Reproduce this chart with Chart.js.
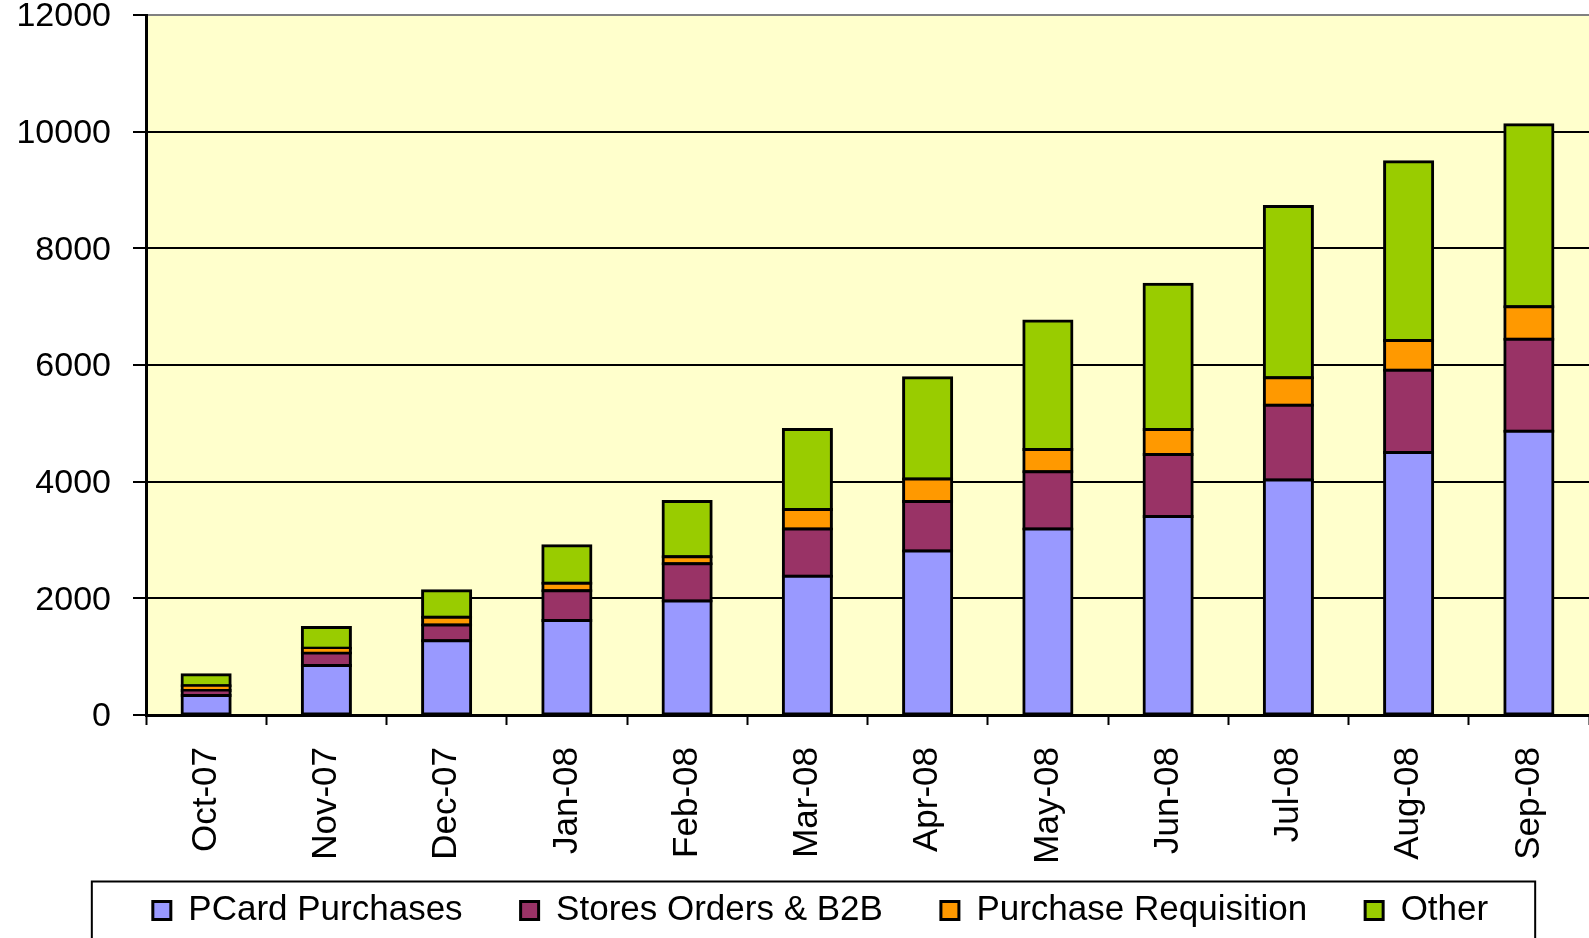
<!DOCTYPE html>
<html>
<head>
<meta charset="utf-8">
<script src="https://cdn.jsdelivr.net/npm/chart.js@4.4.1/dist/chart.umd.min.js"></script>
<style>
  html, body { margin: 0; padding: 0; background: #ffffff; }
  #wrap { width: 1589px; height: 938px; position: relative; }
</style>
</head>
<body>
<div id="wrap"><canvas id="c"></canvas></div>
<script>
const categories = ['Oct-07','Nov-07','Dec-07','Jan-08','Feb-08','Mar-08','Apr-08','May-08','Jun-08','Jul-08','Aug-08','Sep-08'];
const pcardPurchases = [335, 850, 1275, 1620, 1955, 2380, 2810, 3190, 3405, 4030, 4500, 4865];
const storesOrdersB2B = [85, 215, 270, 512, 640, 810, 850, 980, 1062, 1280, 1408, 1578];
const purchaseRequisition = [80, 79, 130, 125, 120, 332, 385, 380, 427, 473, 513, 555];
const other = [188, 354, 457, 645, 947, 1371, 1735, 2205, 2490, 2935, 3064, 3120];
const yTickValues = [0, 2000, 4000, 6000, 8000, 10000, 12000];

const FONT = "'Liberation Sans', Arial, sans-serif";

const plotBg = {
  id: 'plotBg',
  beforeDraw(chart) {
    const a = chart.chartArea, ctx = chart.ctx;
    ctx.save();
    ctx.fillStyle = '#FFFFCC';
    ctx.fillRect(a.left, a.top, a.right - a.left, a.bottom - a.top);
    ctx.restore();
  }
};

const legendBorder = {
  id: 'legendBorder',
  afterDraw(chart) {
    const lg = chart.legend;
    if (!lg || !lg.legendHitBoxes || !lg.legendHitBoxes.length) return;
    const hb = lg.legendHitBoxes;
    const first = hb[0], last = hb[hb.length - 1];
    const left = first.left - 61;
    const right = last.left + last.width + 47;
    const top = first.top + first.height / 2 - 29;
    const ctx = chart.ctx;
    ctx.save();
    ctx.strokeStyle = '#000';
    ctx.lineWidth = 2;
    ctx.strokeRect(left, top, right - left, 80);
    ctx.restore();
  }
};

const mk = (label, data, color) => ({
  label, data,
  backgroundColor: color,
  borderColor: '#000',
  borderWidth: 3,
  borderSkipped: false,
  inflateAmount: 1.5,
  barPercentage: 0.4,
  categoryPercentage: 1.0
});

new Chart(document.getElementById('c'), {
  type: 'bar',
  data: {
    labels: categories,
    datasets: [
      mk('PCard Purchases', pcardPurchases, '#9999FF'),
      mk('Stores Orders & B2B', storesOrdersB2B, '#993366'),
      mk('Purchase Requisition', purchaseRequisition, '#FF9900'),
      mk('Other', other, '#99CC00')
    ]
  },
  options: {
    responsive: true,
    maintainAspectRatio: false,
    animation: false,
    layout: { padding: { left: 52, right: 0, top: 0, bottom: 0 } },
    plugins: {
      tooltip: { enabled: false },
      legend: {
        position: 'bottom',
        labels: {
          color: '#000',
          font: { family: FONT, size: 35 },
          boxWidth: 18,
          boxHeight: 18,
          padding: 58
        }
      }
    },
    scales: {
      x: {
        stacked: true,
        offset: true,
        border: { display: true, color: '#000', width: 3 },
        grid: { display: true, drawOnChartArea: false, drawTicks: true, tickLength: 10, tickColor: '#000', tickWidth: 2, offset: true },
        ticks: {
          color: '#000',
          font: { family: FONT, size: 35 },
          minRotation: 90, maxRotation: 90,
          padding: 22,
          autoSkip: false
        },
        afterFit(scale) {
          scale.height = 120;
          scale.paddingLeft = 0;
          scale.paddingRight = 0;
          scale._computeLabelArea = () => undefined;
        }
      },
      y: {
        stacked: true,
        min: 0, max: 12000,
        afterBuildTicks(scale) { scale.ticks = yTickValues.map(v => ({ value: v })); },
        border: { display: true, color: '#000', width: 3 },
        grid: {
          color: (c) => (c.tick && c.tick.value === 12000) ? '#808080' : '#000',
          lineWidth: 2,
          drawTicks: true, tickLength: 13, tickColor: '#000', tickWidth: 2
        },
        ticks: {
          color: '#000',
          font: { family: FONT, size: 34 },
          padding: 22,
          labelOffset: 2,
          callback: (v) => String(v)
        },
        afterFit(scale) {
          scale.width = 94;
          scale.paddingTop = 15;
          scale.paddingBottom = 0;
          scale._computeLabelArea = () => undefined;
        }
      }
    }
  },
  plugins: [plotBg, legendBorder]
});
</script>
</body>
</html>
